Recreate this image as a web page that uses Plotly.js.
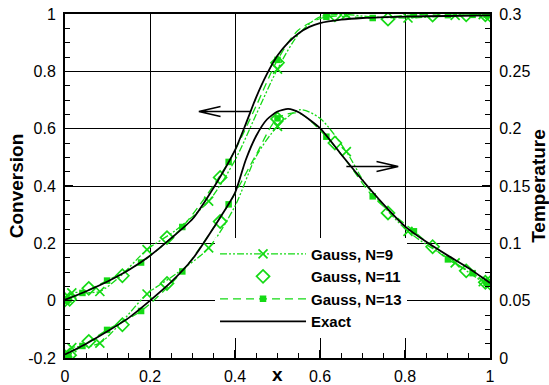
<!DOCTYPE html>
<html>
<head>
<meta charset="utf-8">
<script src="https://cdn.plot.ly/plotly-3.0.1.min.js"></script>
<style>html,body{margin:0;padding:0;background:#fff;}#chart{width:549px;height:385px;}</style>
</head>
<body>
<div id="chart"></div>
<script>
// ---- Exact solution ----
const exactConvX = [0, 0.05, 0.1, 0.15, 0.2, 0.25, 0.3, 0.35, 0.4, 0.425, 0.45, 0.475, 0.5, 0.525, 0.55, 0.575, 0.6, 0.65, 0.7, 0.8, 0.9, 1.0];
const exactConv  = [0.003, 0.033, 0.067, 0.107, 0.157, 0.218, 0.285, 0.395, 0.525, 0.615, 0.71, 0.79, 0.855, 0.9, 0.933, 0.955, 0.968, 0.98, 0.986, 0.991, 0.993, 0.995];
const exactTempX = [0, 0.05, 0.1, 0.15, 0.2, 0.25, 0.3, 0.35, 0.4, 0.425, 0.45, 0.475, 0.5, 0.525, 0.55, 0.6, 0.65, 0.7, 0.75, 0.8, 0.85, 0.9, 0.95, 1.0];
const exactTemp  = [0.003, 0.0125, 0.0233, 0.035, 0.05, 0.0663, 0.0863, 0.1138, 0.144, 0.1725, 0.1938, 0.208, 0.215, 0.2173, 0.2143, 0.2005, 0.1775, 0.155, 0.1338, 0.1148, 0.1013, 0.0895, 0.0783, 0.0655];

// ---- Gauss, N=9 : values at the nodes (markers) ----
const g9X    = [0, 0.016, 0.082, 0.193, 0.338, 0.5, 0.662, 0.807, 0.918, 0.984, 1];
const g9Conv = [0.005, 0.027, 0.032, 0.178, 0.347, 0.808, 0.998, 0.986, 0.995, 0.998, 0.998];
const g9Temp = [0.001, 0.009, 0.013, 0.0558, 0.096, 0.202, 0.18, 0.1105, 0.083, 0.0665, 0.065];
// ---- Gauss, N=9 : interpolated curves ----
const g9ConvLineX = [0, 0.016, 0.05, 0.082, 0.13, 0.193, 0.26, 0.338, 0.4, 0.45, 0.5, 0.55, 0.6, 0.662, 0.72, 0.807, 0.918, 0.984, 1];
const g9ConvLine  = [0.005, 0.027, 0.028, 0.032, 0.085, 0.178, 0.245, 0.347, 0.49, 0.65, 0.808, 0.93, 0.99, 0.998, 0.99, 0.986, 0.995, 0.998, 0.998];
const g9TempLineX = [0, 0.016, 0.05, 0.082, 0.13, 0.193, 0.26, 0.338, 0.4, 0.45, 0.5, 0.553, 0.6, 0.662, 0.71, 0.807, 0.918, 0.984, 1];
const g9TempLine  = [0.001, 0.009, 0.010, 0.013, 0.03, 0.0558, 0.073, 0.096, 0.1325, 0.176, 0.202, 0.2165, 0.209, 0.18, 0.15, 0.1105, 0.083, 0.0665, 0.065];

// ---- Gauss, N=11 (markers only) ----
const g11X    = [0, 0.011, 0.056, 0.135, 0.24, 0.365, 0.5, 0.635, 0.76, 0.865, 0.944, 0.989, 1];
const g11Conv = [0.003, 0.005, 0.043, 0.087, 0.22, 0.43, 0.83, 0.997, 0.982, 0.996, 0.997, 0.997, 0.997];
const g11Temp = [0.001, 0.0025, 0.0145, 0.029, 0.065, 0.119, 0.2085, 0.1875, 0.1265, 0.097, 0.076, 0.066, 0.0655];

// ---- Gauss, N=13 : values at the nodes (markers) ----
const g13X    = [0, 0.008, 0.041, 0.099, 0.179, 0.276, 0.385, 0.5, 0.615, 0.724, 0.821, 0.901, 0.959, 0.992, 1];
const g13Conv = [0.0, 0.004, 0.027, 0.07, 0.133, 0.257, 0.484, 0.84, 0.99, 0.986, 0.997, 0.996, 0.997, 0.997, 0.997];
const g13Temp = [0.001, 0.0025, 0.0105, 0.0245, 0.041, 0.0755, 0.134, 0.209, 0.193, 0.141, 0.1105, 0.086, 0.074, 0.0655, 0.065];
// ---- Gauss, N=13 : interpolated curves ----
const g13ConvLineX = [0, 0.008, 0.041, 0.099, 0.179, 0.276, 0.385, 0.45, 0.5, 0.55, 0.615, 0.724, 0.821, 0.901, 0.959, 0.992, 1];
const g13ConvLine  = [0.0, 0.004, 0.027, 0.07, 0.133, 0.257, 0.484, 0.68, 0.84, 0.945, 0.99, 0.986, 0.997, 0.996, 0.997, 0.997, 0.997];
const g13TempLineX = [0, 0.008, 0.041, 0.099, 0.179, 0.276, 0.385, 0.45, 0.5, 0.55, 0.615, 0.67, 0.724, 0.821, 0.901, 0.959, 0.992, 1];
const g13TempLine  = [0.001, 0.0025, 0.0105, 0.0245, 0.041, 0.0755, 0.134, 0.1775, 0.209, 0.2135, 0.193, 0.168, 0.141, 0.1105, 0.086, 0.074, 0.0655, 0.065];

// ---- Axis ticks / legend ----
const convTickVals = [-0.2, 0, 0.2, 0.4, 0.6, 0.8, 1];
const convTickText = ['-0.2', '0', '0.2', '0.4', '0.6', '0.8', '1'];
const legendNames = ['Gauss, N=9', 'Gauss, N=11', 'Gauss, N=13', 'Exact'];

const GREEN = 'rgb(20,218,20)';
const FONT = 'Liberation Sans, Arial, Helvetica, sans-serif';

const line9  = {color: GREEN, width: 1.3, dash: '7px,2px,2px,2px,2px,2px', shape: 'spline', smoothing: 0.8};
const line13 = {color: GREEN, width: 1.3, dash: '8px,5px', shape: 'spline', smoothing: 0.8};
const mk9  = {symbol: 'x-thin-open', size: 9, color: GREEN, line: {width: 1.7, color: GREEN}};
const mk11 = {symbol: 'diamond-open', size: 10, color: GREEN, line: {width: 1.7, color: GREEN}};
const mk13 = {symbol: 'square', size: 6.5, color: GREEN};
const lineEx = {color: 'black', width: 1.8, shape: 'spline', smoothing: 0.6};

function tr(x, y, ax, mode, extra) {
  return Object.assign({x: x, y: y, yaxis: ax, mode: mode, showlegend: false, hoverinfo: 'skip'}, extra);
}

const traces = [
  // legend entries
  {x: [null], y: [null], mode: 'lines+markers', name: legendNames[0], line: line9, marker: mk9},
  {x: [null], y: [null], mode: 'markers', name: legendNames[1], marker: mk11},
  {x: [null], y: [null], mode: 'lines+markers', name: legendNames[2], line: line13, marker: mk13},
  {x: [null], y: [null], mode: 'lines', name: legendNames[3], line: lineEx},
  // conversion (left axis)
  tr(g9ConvLineX, g9ConvLine, 'y', 'lines', {line: line9}),
  tr(g9X, g9Conv, 'y', 'markers', {marker: mk9}),
  tr(g11X, g11Conv, 'y', 'markers', {marker: mk11}),
  tr(g13ConvLineX, g13ConvLine, 'y', 'lines', {line: line13}),
  tr(g13X, g13Conv, 'y', 'markers', {marker: mk13}),
  tr(exactConvX, exactConv, 'y', 'lines', {line: lineEx}),
  // temperature (right axis)
  tr(g9TempLineX, g9TempLine, 'y2', 'lines', {line: line9}),
  tr(g9X, g9Temp, 'y2', 'markers', {marker: mk9}),
  tr(g11X, g11Temp, 'y2', 'markers', {marker: mk11}),
  tr(g13TempLineX, g13TempLine, 'y2', 'lines', {line: line13}),
  tr(g13X, g13Temp, 'y2', 'markers', {marker: mk13}),
  tr(exactTempX, exactTemp, 'y2', 'lines', {line: lineEx})
];

const tickFont = {family: FONT, size: 16, color: 'black'};
const titleFont = {family: FONT, size: 19, color: 'black', weight: 'bold'};

const layout = {
  width: 549, height: 385,
  margin: {l: 65, r: 59, t: 14, b: 27, pad: 0},
  paper_bgcolor: 'white', plot_bgcolor: 'white',
  showlegend: true,
  font: {family: FONT, color: 'black'},
  xaxis: {
    range: [0, 1], dtick: 0.2, tick0: 0, showgrid: true, gridcolor: 'black', gridwidth: 1,
    zeroline: false, showline: true, linecolor: 'black', linewidth: 2, mirror: true,
    ticks: 'inside', ticklen: 8, tickwidth: 1.5, tickcolor: 'black', tickfont: tickFont, ticklabelstandoff: 3,
    minor: {dtick: 0.05, ticks: 'inside', ticklen: 5, tickwidth: 1, tickcolor: 'black', showgrid: false}
  },
  yaxis: {
    range: [-0.2, 1], tickvals: convTickVals, ticktext: convTickText, showgrid: true, gridcolor: 'black', gridwidth: 1,
    zeroline: false, showline: true, linecolor: 'black', linewidth: 2, mirror: false,
    ticks: 'inside', ticklen: 8, tickwidth: 1.5, tickcolor: 'black', tickfont: tickFont, ticklabelstandoff: 4,
    minor: {dtick: 0.05, tick0: 0, ticks: 'inside', ticklen: 5, tickwidth: 1, tickcolor: 'black', showgrid: false},
    title: {text: 'Conversion', font: titleFont, standoff: 0}
  },
  yaxis2: {
    range: [0, 0.3], dtick: 0.05, tick0: 0, overlaying: 'y', side: 'right', showgrid: false,
    zeroline: false, showline: true, linecolor: 'black', linewidth: 2,
    ticks: 'inside', ticklen: 8, tickwidth: 1.5, tickcolor: 'black', tickfont: tickFont, ticklabelstandoff: 4,
    minor: {dtick: 0.0125, tick0: 0, ticks: 'inside', ticklen: 5, tickwidth: 1, tickcolor: 'black', showgrid: false},
    title: {text: 'Temperature', font: titleFont, standoff: 2}
  },
  legend: {
    x: 0.353, y: 0.35, xanchor: 'left', yanchor: 'top', xref: 'paper', yref: 'paper',
    bgcolor: 'white', borderwidth: 0, itemwidth: 86, tracegroupgap: 0,
    font: {family: FONT, size: 15, color: 'black', weight: 'bold'}
  },
  annotations: [
    {text: 'x', xref: 'paper', yref: 'paper', x: 0.5, y: -0.085, xanchor: 'center', yanchor: 'bottom',
     showarrow: false, font: titleFont}
  ],
  shapes: [
    {type: 'path', xref: 'x', yref: 'y', path: 'M 0.437,0.66 L 0.315,0.66 M 0.366,0.6774 L 0.315,0.66 L 0.366,0.6426',
     line: {color: 'black', width: 1.5}},
    {type: 'path', xref: 'x', yref: 'y', path: 'M 0.662,0.468 L 0.784,0.468 M 0.733,0.4854 L 0.784,0.468 L 0.733,0.4506',
     line: {color: 'black', width: 1.5}}
  ]
};

Plotly.newPlot('chart', traces, layout, {displayModeBar: false, staticPlot: true});
</script>
</body>
</html>
